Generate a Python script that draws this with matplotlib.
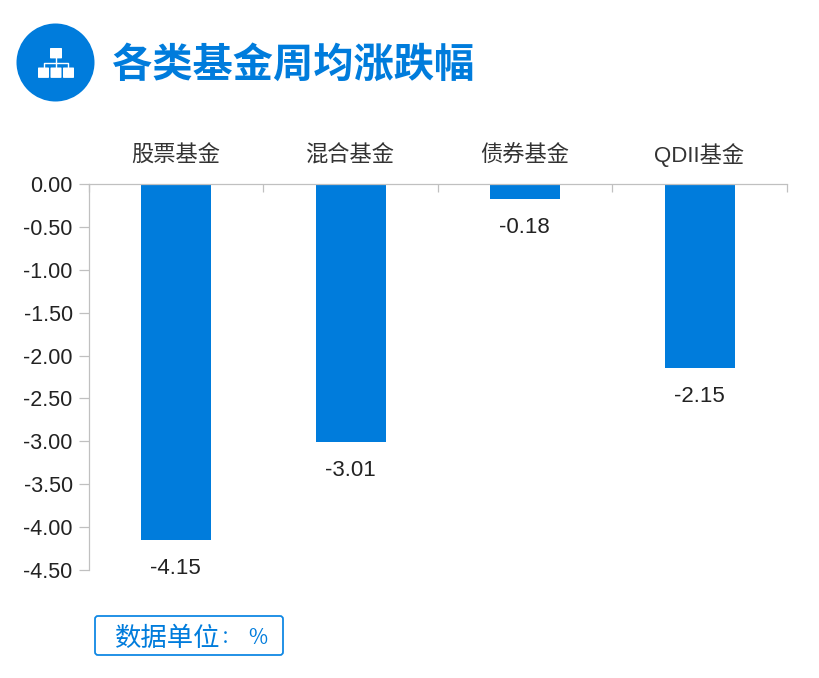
import matplotlib
matplotlib.use("Agg")
import matplotlib.pyplot as plt
from matplotlib.patches import Circle, FancyBboxPatch

categories = ["股票基金", "混合基金", "债券基金", "QDII基金"]
values = [-4.15, -3.01, -0.18, -2.15]
y_ticks = [0, -0.5, -1, -1.5, -2, -2.5, -3, -3.5, -4, -4.5]

BLUE = "#007cdc"
GREY = "#c0c0c0"
W, H = 820, 678

plt.rcParams["font.family"] = ["Liberation Sans", "Noto Sans CJK SC", "DejaVu Sans"]

fig = plt.figure(figsize=(W / 100, H / 100), dpi=100)

# chart area, placed to match the reference pixels
ax = fig.add_axes([89 / W, 1 - 570 / H, (787 - 89) / W, (570 - 184) / H])
x = list(range(len(categories)))
ax.bar(x, values, width=0.4, color=BLUE)
for i, v in zip(x, values):
    ax.annotate("%.2f" % v, (i, v), xytext=(-0.5, -18), textcoords="offset pixels",
                ha="center", va="top", fontsize=16, color="#222222")

ax.set_xlim(-0.5, 3.5)
ax.set_ylim(-4.5, 0)
ax.set_yticks(y_ticks)
ax.set_yticklabels(["%.2f" % t for t in y_ticks], fontsize=15.5, color="#222222")
ax.set_xticks([-0.5, 0.5, 1.5, 2.5, 3.5])
ax.set_xticklabels([])
ax.xaxis.tick_top()
ax.tick_params(axis="x", direction="in", length=6, width=0.9, color=GREY, top=True, bottom=False)
ax.tick_params(axis="y", direction="out", length=7.2, width=0.9, color=GREY, pad=4.5)
for i, c in zip(x, categories):
    ax.annotate(c, (i, 0), xytext=(-1, 22), textcoords="offset pixels", ha="center",
                va="baseline", fontsize=16, color="#333333")
for s in ["right", "bottom"]:
    ax.spines[s].set_visible(False)
for s in ["left", "top"]:
    ax.spines[s].set_color(GREY)
    ax.spines[s].set_linewidth(0.9)

# header and unit box, in pixel coordinates
deco = fig.add_axes([0, 0, 1, 1], facecolor="none")
deco.set_xlim(0, W)
deco.set_ylim(H, 0)
deco.axis("off")
deco.add_patch(Circle((55.5, 62.5), 39, color=BLUE, lw=0))
for bx, by, bw in [(50, 48, 12), (38, 67.5, 11), (50.5, 67.5, 11), (63, 67.5, 11)]:
    deco.add_patch(FancyBboxPatch((bx + 0.7, by + 0.7), bw - 1.4, 9, boxstyle="round,pad=0.7",
                                  fc="white", ec="none"))
deco.plot([56, 56], [58, 68], color="white", lw=1)
deco.plot([44, 44, 68.5, 68.5], [68, 63, 63, 68], color="white", lw=1)
deco.text(112, 65, "各类基金周均涨跌幅", fontsize=29, color=BLUE, fontweight="bold",
          family="Noto Sans CJK SC", va="center", ha="left")
deco.add_patch(FancyBboxPatch((98, 619), 182, 33, boxstyle="round,pad=3", fc="white",
                              ec="#1088e4", lw=1.3))
deco.text(115, 638, "数据单位", fontsize=19, color=BLUE, family="Noto Sans CJK SC",
          fontweight="light", va="center", ha="left")
deco.text(221, 638, "：", fontsize=13, color=BLUE, family="Noto Sans CJK SC",
          fontweight="light", va="center", ha="left")
deco.text(248, 638, "%", fontsize=15, color=BLUE, family="Noto Sans CJK SC",
          fontweight="light", va="center", ha="left")

fig.savefig("out.png", dpi=100)
